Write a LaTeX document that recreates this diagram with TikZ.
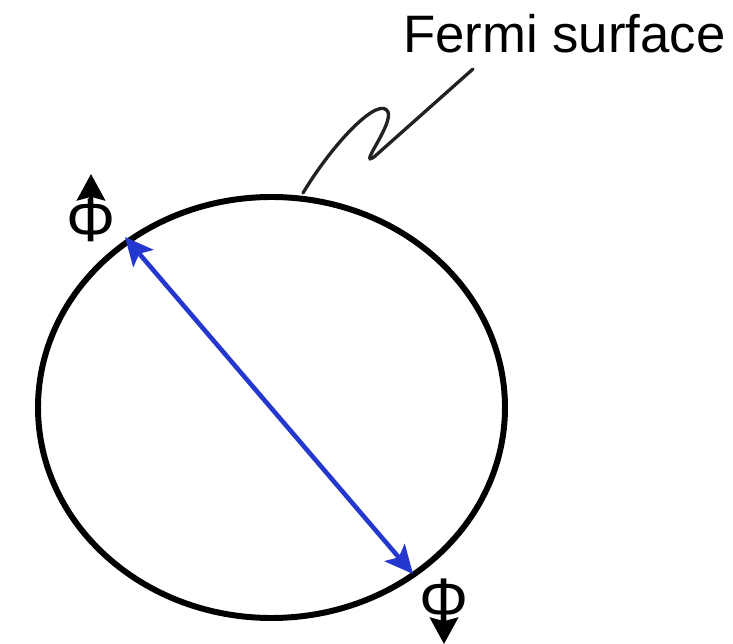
\documentclass[tikz,border=0pt]{standalone}
\usepackage{fontspec}
\setmainfont{Liberation Sans}
\usepackage{tikz}
\usetikzlibrary{arrows.meta, positioning}
\definecolor{pairblue}{HTML}{2438D0}
\definecolor{leadgray}{HTML}{222222}

\begin{document}
\begin{tikzpicture}[
    x=0.02cm, y=-0.02cm,
    every node/.style={font=\fontsize{30pt}{33pt}\selectfont},
    fermi/.style={draw=black, line width=3.4pt},
    pairarrow/.style={draw=pairblue, line width=2.6pt, {Stealth[length=16pt, width=15pt, inset=3.5pt]}-{Stealth[length=16pt, width=15pt, inset=3.5pt]}},
    spinarrow/.style={draw=black, line width=2.8pt, -{Stealth[length=15pt, width=16pt, inset=2pt]}},
    leadline/.style={draw=leadgray, line width=1.9pt, line cap=round},
    phinode/.style={inner sep=0pt, font=\fontsize{35pt}{38pt}\selectfont},
]
\useasboundingbox (0,0) rectangle (733,644);
% Fermi surface
\draw[fermi] (271.5,407.5) ellipse [x radius=233.5, y radius=210.5];
\node[anchor=base west, inner sep=0pt] (label) at (403,53) {Fermi surface};
% pair of electrons on opposite sides
\coordinate (kup) at (125,237);
\coordinate (kdown) at (413,574);
\draw[pairarrow] (kup) -- (kdown);
% spins
\node[phinode] (phiup) at (91,220) {Φ};
\coordinate (uptip) at (91,174);
\draw[spinarrow] ([yshift=-4pt]phiup.north) -- (uptip);
\node[phinode] (phidown) at (444,600) {Φ};
\coordinate (downtip) at (444,644);
\draw[spinarrow] ([yshift=4pt]phidown.south) -- (downtip);
% wiggly pointer to the surface
\coordinate (touch) at (303,193);
\coordinate (crest) at (388,112);
\coordinate (trough) at (374,157);
\coordinate (leadend) at (473,69);
\draw[leadline] (touch) .. controls (335,140) and (380,95) .. (crest)
    .. controls (393,125) and (358,168) .. (trough) -- (leadend);
\end{tikzpicture}
\end{document}
